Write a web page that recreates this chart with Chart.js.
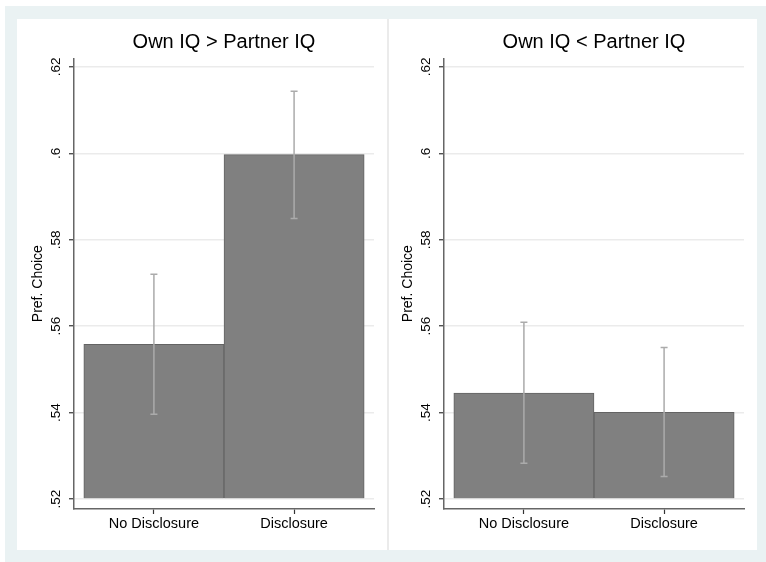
<!DOCTYPE html>
<html>
<head>
<meta charset="utf-8">
<script src="https://cdn.jsdelivr.net/npm/chart.js@4.4.1/dist/chart.umd.min.js"></script>
<style>
  html, body { margin: 0; padding: 0; background: #fff; }
  #frame { position: absolute; left: 5px; top: 6px; width: 761px; height: 556px; background: #eaf2f3; }
  #inner { position: absolute; left: 12px; top: 13px; width: 740px; height: 531px; background: #fff; }
  .panel { position: absolute; top: 0; }
  #divider { position: absolute; left: 370px; top: 0; width: 2px; height: 531px; background: #ebebeb; }
</style>
</head>
<body>
<div id="frame">
  <div id="inner">
    <div id="divider"></div>
    <canvas id="chartHigher" class="panel" style="left:0px" width="370" height="531"></canvas>
    <canvas id="chartLower" class="panel" style="left:370px" width="370" height="531"></canvas>
  </div>
</div>
<script>
// categorias y valores
const categories = ['No Disclosure', 'Disclosure'];
const yTicks = [0.52, 0.54, 0.56, 0.58, 0.60, 0.62];
const yTickLabels = ['.52', '.54', '.56', '.58', '.6', '.62'];

// Own IQ > Partner IQ
const higherMeans = [0.5558, 0.5997];
const higherLow = [0.5396, 0.5849];
const higherHigh = [0.5720, 0.6144];

// Own IQ < Partner IQ
const lowerMeans = [0.5445, 0.5401];
const lowerLow = [0.5283, 0.5252];
const lowerHigh = [0.5609, 0.5551];

const fontFamily = "'Liberation Sans', Arial, sans-serif";

// barras de error (intervalos) dibujadas con las escalas del grafico
const errorBars = {
    id: 'errorBars',
    afterDatasetsDraw(chart, args, opts) {
        const ctx = chart.ctx;
        const xs = chart.scales.x, ys = chart.scales.y;
        ctx.save();
        ctx.strokeStyle = opts.color;
        ctx.lineWidth = opts.width;
        opts.low.forEach((lo, i) => {
            const x = xs.getPixelForValue(i + 1);
            const yLo = ys.getPixelForValue(lo);
            const yHi = ys.getPixelForValue(opts.high[i]);
            ctx.beginPath();
            ctx.moveTo(x, yLo); ctx.lineTo(x, yHi);
            ctx.moveTo(x - opts.cap, yLo); ctx.lineTo(x + opts.cap, yLo);
            ctx.moveTo(x - opts.cap, yHi); ctx.lineTo(x + opts.cap, yHi);
            ctx.stroke();
        });
        ctx.restore();
    }
};

function makePanel(id, title, means, low, high) {
    return new Chart(document.getElementById(id), {
        type: 'bar',
        data: {
            datasets: [{
                data: means.map((v, i) => ({ x: i + 1, y: v })),
                base: yTicks[0],
                backgroundColor: '#808080',
                borderColor: '#636363',
                borderWidth: 1,
                barPercentage: 1,
                categoryPercentage: 1
            }]
        },
        options: {
            responsive: false,
            animation: false,
            devicePixelRatio: 1,
            layout: { padding: { left: 0, right: 13, top: 0, bottom: 0 } },
            plugins: {
                legend: { display: false },
                tooltip: { enabled: false },
                title: {
                    display: true,
                    text: title,
                    fullSize: false,
                    color: '#000',
                    font: { family: fontFamily, size: 20, weight: 'normal' },
                    padding: { top: 11, bottom: 4.3 }
                },
                errorBars: { low: low, high: high, color: '#ababab', width: 1.5, cap: 3.5 }
            },
            scales: {
                x: {
                    type: 'linear',
                    offset: false, // sin esto la escala lineal se encoge
                    bounds: 'data',
                    min: 0.43,
                    max: 2.57,
                    afterBuildTicks: s => { s.ticks = categories.map((c, i) => ({ value: i + 1 })); },
                    afterFit: s => { s.height = 41; },
                    ticks: {
                        callback: v => categories[v - 1],
                        color: '#000',
                        padding: 1,
                        maxRotation: 0,
                        font: { family: fontFamily, size: 14.5 }
                    },
                    grid: { offset: false, drawOnChartArea: false, drawTicks: true, tickLength: 5, tickColor: '#333', tickWidth: 1.2 },
                    border: { display: true, color: '#666', width: 1.5 }
                },
                y: {
                    min: 0.5177,
                    max: 0.622,
                    afterBuildTicks: s => { s.ticks = yTicks.map(v => ({ value: v })); },
                    afterFit: s => { s.width = 57; },
                    ticks: {
                        callback: (v, i) => yTickLabels[i],
                        color: '#000',
                        minRotation: 90,
                        maxRotation: 90,
                        crossAlign: 'center',
                        padding: 3,
                        font: { family: fontFamily, size: 13.5 }
                    },
                    title: {
                        display: true,
                        text: 'Pref. Choice',
                        color: '#000',
                        padding: { top: 12.6, bottom: 0 },
                        font: { family: fontFamily, size: 14 }
                    },
                    grid: { color: '#ebebeb', lineWidth: 1.5, tickLength: 5, tickColor: '#333', tickWidth: 1.2 },
                    border: { display: true, color: '#666', width: 1.5 }
                }
            }
        },
        plugins: [errorBars]
    });
}

makePanel('chartHigher', 'Own IQ > Partner IQ', higherMeans, higherLow, higherHigh);
makePanel('chartLower', 'Own IQ < Partner IQ', lowerMeans, lowerLow, lowerHigh);
</script>
</body>
</html>
